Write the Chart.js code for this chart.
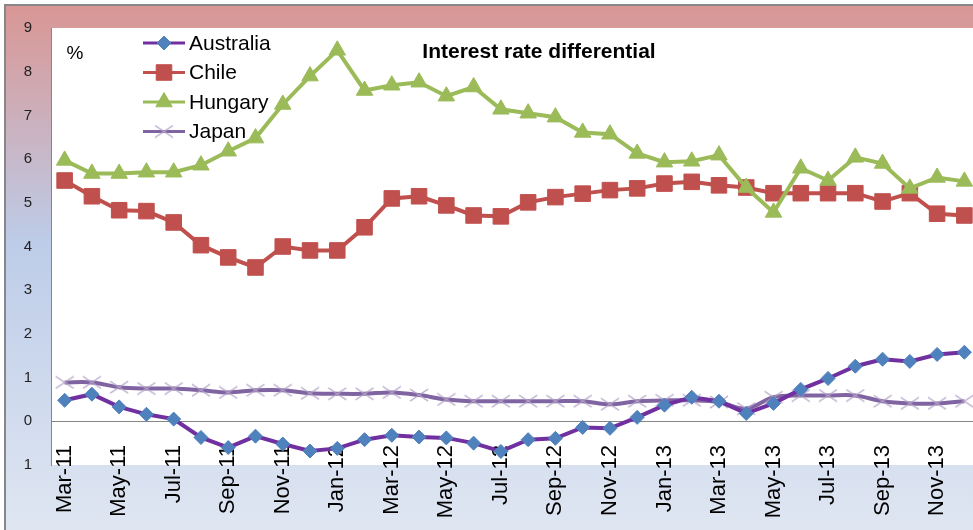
<!DOCTYPE html>
<html>
<head>
<meta charset="utf-8">
<script src="https://cdn.jsdelivr.net/npm/chart.js@4.4.1/dist/chart.umd.min.js"></script>
<style>
  html, body { margin: 0; padding: 0; background: #fff; overflow: hidden; }
  #wrap { width: 973px; height: 530px; overflow: hidden; }
  canvas { display: block; }
</style>
</head>
<body>
<div id="wrap"><canvas id="rateChart" width="990" height="530"></canvas></div>
<script>
const months = ['Mar-11', 'Apr-11', 'May-11', 'Jun-11', 'Jul-11', 'Aug-11', 'Sep-11', 'Oct-11', 'Nov-11', 'Dec-11',
    'Jan-12', 'Feb-12', 'Mar-12', 'Apr-12', 'May-12', 'Jun-12', 'Jul-12', 'Aug-12', 'Sep-12', 'Oct-12', 'Nov-12', 'Dec-12',
    'Jan-13', 'Feb-13', 'Mar-13', 'Apr-13', 'May-13', 'Jun-13', 'Jul-13', 'Aug-13', 'Sep-13', 'Oct-13', 'Nov-13', 'Dec-13'];

const australia = [0.48, 0.62, 0.33, 0.16, 0.05, -0.37, -0.6, -0.34, -0.52, -0.68, -0.62, -0.42, -0.32, -0.36, -0.38, -0.5, -0.69,
    -0.42, -0.39, -0.14, -0.16, 0.09, 0.37, 0.55, 0.46, 0.18, 0.41, 0.73, 0.98, 1.26, 1.42, 1.37, 1.53, 1.58];
const chile = [5.51, 5.15, 4.83, 4.81, 4.55, 4.03, 3.75, 3.52, 4.0, 3.91, 3.91, 4.44, 5.1, 5.15, 4.94, 4.71, 4.69,
    5.01, 5.13, 5.21, 5.29, 5.33, 5.44, 5.48, 5.4, 5.35, 5.22, 5.22, 5.22, 5.22, 5.03, 5.22, 4.75, 4.71];
const hungary = [5.97, 5.67, 5.67, 5.7, 5.7, 5.86, 6.18, 6.48, 7.25, 7.9, 8.49, 7.57, 7.69, 7.76, 7.44, 7.65, 7.14,
    7.05, 6.96, 6.61, 6.57, 6.13, 5.93, 5.95, 6.09, 5.35, 4.78, 5.79, 5.51, 6.04, 5.9, 5.33, 5.58, 5.49];
const japan = [0.89, 0.89, 0.78, 0.75, 0.75, 0.71, 0.66, 0.71, 0.71, 0.64, 0.63, 0.63, 0.66, 0.6, 0.5, 0.46, 0.46,
    0.46, 0.46, 0.46, 0.39, 0.46, 0.48, 0.48, 0.44, 0.29, 0.55, 0.59, 0.59, 0.59, 0.46, 0.41, 0.41, 0.46];

// y labels as printed on the original (the minus of the bottom one is lost there)
const yTickLabels = ['1', '0', '1', '2', '3', '4', '5', '6', '7', '8', '9'];

const FONT = '"Liberation Sans", Arial, sans-serif';
const X_FONT_SIZE = 22;

// wide, flat "x" marker like the Excel one
const xMark = document.createElement('canvas');
xMark.width = 20;
xMark.height = 14;
(function () {
    const c = xMark.getContext('2d');
    c.strokeStyle = '#B3A2C7';
    c.lineWidth = 1.2;
    c.beginPath();
    c.moveTo(1, 1); c.lineTo(19, 13);
    c.moveTo(1, 13); c.lineTo(19, 1);
    c.stroke();
})();

// background, frame, white plot area, title and the in-plot legend
const framePlugin = {
    id: 'frame',
    beforeDraw(chart) {
        const { ctx, width, height, chartArea: a } = chart;
        ctx.save();
        ctx.fillStyle = '#fff';
        ctx.fillRect(0, 0, width, height);
        const g = ctx.createLinearGradient(0, 5, 0, height);
        g.addColorStop(0, '#D99694');
        g.addColorStop(0.45, '#BDCCE8');
        g.addColorStop(1, '#DFE6F2');
        ctx.fillStyle = g;
        ctx.fillRect(5, 5, width, height);
        ctx.fillStyle = '#fff';
        ctx.fillRect(a.left, a.top, width - a.left, a.bottom - a.top);
        ctx.strokeStyle = '#878787';
        ctx.lineWidth = 2;
        ctx.beginPath();
        ctx.moveTo(5, height + 5);
        ctx.lineTo(5, 5);
        ctx.lineTo(width + 5, 5);
        ctx.stroke();
        ctx.restore();
    },
    afterDraw(chart) {
        const { ctx, chartArea: a } = chart;
        ctx.save();
        ctx.fillStyle = '#000';
        ctx.textBaseline = 'middle';
        ctx.textAlign = 'center';
        ctx.font = 'bold 21px ' + FONT;
        ctx.fillText('Interest rate differential', a.left + 488, a.top + 24);
        ctx.font = '19px ' + FONT;
        ctx.fillText('%', a.left + 24, a.top + 26);

        // legend: line with marker, then name
        ctx.textAlign = 'left';
        ctx.font = '21px ' + FONT;
        chart.data.datasets.forEach((ds, i) => {
            const y = a.top + 15 + i * 29.5;
            const x = a.left + 92;
            ctx.strokeStyle = ds.borderColor;
            ctx.lineWidth = 3;
            ctx.beginPath();
            ctx.moveTo(x, y);
            ctx.lineTo(x + 42, y);
            ctx.stroke();
            ctx.fillStyle = ds.pointBackgroundColor;
            ctx.strokeStyle = ds.pointBorderColor;
            ctx.lineWidth = ds.pointBorderWidth;
            Chart.helpers.drawPoint(ctx, {
                pointStyle: ds.pointStyle, radius: ds.pointRadius, rotation: 0, borderWidth: ds.pointBorderWidth
            }, x + 21, y);
            ctx.fillStyle = '#000';
            ctx.fillText(ds.label, x + 46, y + 1);
        });
        ctx.restore();
    }
};

const ctx = document.getElementById('rateChart').getContext('2d');
const rateChart = new Chart(ctx, {
    type: 'line',
    data: {
        labels: months,
        datasets: [{
            label: 'Australia',
            data: australia,
            borderColor: '#7030A0',
            borderWidth: 4,
            pointStyle: 'rectRot',
            pointRadius: 7,
            pointBackgroundColor: '#4F81BD',
            pointBorderColor: '#4F81BD',
            pointBorderWidth: 1,
            tension: 0,
            order: 0
        }, {
            label: 'Chile',
            data: chile,
            borderColor: '#C0504D',
            borderWidth: 4,
            pointStyle: 'rect',
            pointRadius: 11,
            pointBackgroundColor: '#C0504D',
            pointBorderColor: '#C0504D',
            pointBorderWidth: 1,
            tension: 0,
            order: 2
        }, {
            label: 'Hungary',
            data: hungary,
            borderColor: '#9BBB59',
            borderWidth: 4,
            pointStyle: 'triangle',
            pointRadius: 9.5,
            pointBackgroundColor: '#9BBB59',
            pointBorderColor: '#9BBB59',
            pointBorderWidth: 1,
            tension: 0,
            order: 1
        }, {
            label: 'Japan',
            data: japan,
            borderColor: '#8064A2',
            borderWidth: 4,
            pointStyle: xMark,
            pointRadius: 10,
            pointBackgroundColor: '#B3A2C7',
            pointBorderColor: '#B3A2C7',
            pointBorderWidth: 1,
            tension: 0.35,
            order: 3
        }]
    },
    options: {
        responsive: false,
        animation: false,
        layout: { padding: { left: 0, top: 28, right: 7, bottom: 0 } },
        plugins: {
            legend: { display: false },
            title: { display: false },
            tooltip: { enabled: false }
        },
        scales: {
            x: {
                offset: true,
                grid: { display: false, drawTicks: false },
                border: { display: false },
                ticks: {
                    autoSkip: false,
                    minRotation: 90,
                    maxRotation: 90,
                    // mirrored so the labels can start above the plot bottom, like the original
                    mirror: true,
                    padding: 20,
                    labelOffset: X_FONT_SIZE * 1.2,
                    color: '#000',
                    font: { family: FONT, size: X_FONT_SIZE },
                    callback: (v, i) => (i % 2 === 0 ? months[i] : '')
                },
                afterFit: s => {
                    s.height = 65;
                    s.paddingLeft = 0;
                    s.paddingRight = 0;
                }
            },
            y: {
                min: -1,
                max: 9,
                ticks: {
                    stepSize: 1,
                    padding: 19,
                    color: '#222',
                    font: { family: FONT, size: 15 },
                    callback: (v, i) => yTickLabels[i]
                },
                grid: {
                    drawTicks: false,
                    color: c => (c.tick && c.tick.value === 0 ? '#868686' : 'rgba(0,0,0,0)')
                },
                border: { display: true, color: '#868686', width: 1 },
                afterFit: s => { s.width = 51; }
            }
        }
    },
    plugins: [framePlugin]
});
</script>
</body>
</html>
